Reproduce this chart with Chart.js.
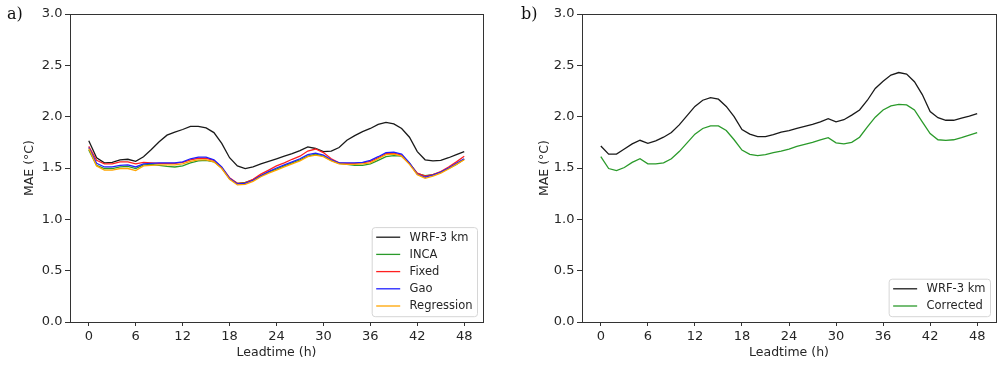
<!DOCTYPE html>
<html>
<head>
<meta charset="utf-8">
<script src="https://cdn.jsdelivr.net/npm/chart.js@4/dist/chart.umd.min.js"></script>
<style>
    body { margin: 0; background: #fff; }
    #page { position: relative; width: 997px; height: 365px; overflow: hidden; }
    .panel { position: absolute; top: 0; height: 365px; }
    #panelA { left: 0; width: 500px; }
    #panelB { left: 500px; width: 497px; }
</style>
</head>
<body>
<div id="page">
    <div class="panel" id="panelA"><canvas id="chartA" width="500" height="365"></canvas></div>
    <div class="panel" id="panelB"><canvas id="chartB" width="497" height="365"></canvas></div>
</div>
<script>
// lead time in hours (x axis)
const leadtime = [0, 1, 2, 3, 4, 5, 6, 7, 8, 9, 10, 11, 12, 13, 14, 15, 16, 17, 18, 19, 20, 21, 22, 23, 24,
    25, 26, 27, 28, 29, 30, 31, 32, 33, 34, 35, 36, 37, 38, 39, 40, 41, 42, 43, 44, 45, 46, 47, 48];
const xTicks = [0, 6, 12, 18, 24, 30, 36, 42, 48];
const yTicks = [0.0, 0.5, 1.0, 1.5, 2.0, 2.5, 3.0];

// panel a)
const wrfA = [1.765, 1.60, 1.55, 1.555, 1.58, 1.585, 1.565, 1.61, 1.68, 1.755, 1.82, 1.85, 1.875, 1.905, 1.905, 1.89,
    1.845, 1.74, 1.60, 1.52, 1.495, 1.51, 1.54, 1.565, 1.59, 1.615, 1.64, 1.67, 1.705, 1.69, 1.66, 1.665, 1.70,
    1.77, 1.815, 1.855, 1.885, 1.925, 1.945, 1.93, 1.885, 1.80, 1.66, 1.58, 1.57, 1.575, 1.60, 1.63, 1.66];
const incaA = [1.675, 1.525, 1.495, 1.495, 1.51, 1.515, 1.495, 1.53, 1.535, 1.525, 1.515, 1.51, 1.52, 1.55, 1.57, 1.575,
    1.56, 1.50, 1.395, 1.35, 1.36, 1.385, 1.425, 1.46, 1.49, 1.52, 1.55, 1.58, 1.615, 1.635, 1.615, 1.575, 1.545,
    1.535, 1.525, 1.525, 1.54, 1.575, 1.61, 1.62, 1.615, 1.545, 1.445, 1.425, 1.435, 1.46, 1.495, 1.535, 1.585];
const fixedA = [1.71, 1.575, 1.54, 1.54, 1.56, 1.56, 1.54, 1.555, 1.55, 1.545, 1.545, 1.545, 1.555, 1.58, 1.595, 1.595,
    1.575, 1.505, 1.405, 1.35, 1.355, 1.39, 1.44, 1.48, 1.52, 1.55, 1.585, 1.615, 1.665, 1.685, 1.65, 1.59, 1.55,
    1.545, 1.545, 1.55, 1.565, 1.60, 1.64, 1.645, 1.625, 1.545, 1.45, 1.42, 1.435, 1.465, 1.51, 1.56, 1.615];
const gaoA = [1.70, 1.545, 1.51, 1.51, 1.525, 1.53, 1.51, 1.54, 1.545, 1.55, 1.55, 1.55, 1.56, 1.59, 1.605, 1.605,
    1.58, 1.51, 1.40, 1.345, 1.35, 1.38, 1.425, 1.465, 1.50, 1.53, 1.56, 1.59, 1.63, 1.645, 1.625, 1.58, 1.55,
    1.55, 1.55, 1.555, 1.575, 1.61, 1.65, 1.655, 1.635, 1.55, 1.44, 1.41, 1.43, 1.46, 1.50, 1.545, 1.59];
const regressionA = [1.69, 1.52, 1.48, 1.48, 1.495, 1.495, 1.475, 1.52, 1.525, 1.53, 1.53, 1.53, 1.54, 1.565, 1.58, 1.58,
    1.56, 1.495, 1.39, 1.335, 1.34, 1.37, 1.415, 1.45, 1.48, 1.51, 1.54, 1.57, 1.61, 1.625, 1.61, 1.57, 1.54,
    1.535, 1.535, 1.54, 1.55, 1.59, 1.63, 1.635, 1.615, 1.535, 1.435, 1.40, 1.42, 1.45, 1.49, 1.535, 1.58];

// panel b)
const wrfB = [1.715, 1.635, 1.635, 1.685, 1.735, 1.77, 1.74, 1.765, 1.80, 1.845, 1.92, 2.01, 2.10, 2.16, 2.185, 2.17,
    2.10, 2.00, 1.875, 1.83, 1.805, 1.805, 1.825, 1.85, 1.865, 1.885, 1.905, 1.925, 1.95, 1.98, 1.95, 1.97, 2.015,
    2.065, 2.16, 2.275, 2.345, 2.405, 2.43, 2.415, 2.34, 2.215, 2.05, 1.99, 1.965, 1.965, 1.985, 2.005, 2.03];
const correctedB = [1.61, 1.495, 1.475, 1.505, 1.555, 1.59, 1.54, 1.54, 1.55, 1.59, 1.66, 1.745, 1.83, 1.885, 1.91, 1.91,
    1.865, 1.775, 1.675, 1.633, 1.62, 1.63, 1.65, 1.665, 1.685, 1.71, 1.73, 1.75, 1.775, 1.795, 1.745, 1.735, 1.75,
    1.80, 1.90, 1.995, 2.065, 2.105, 2.12, 2.115, 2.065, 1.95, 1.835, 1.775, 1.77, 1.775, 1.795, 1.82, 1.845];

const FONT = '"DejaVu Sans", sans-serif';
const INK = '#262626';

function toPoints(values) {
    return leadtime.map((h, i) => ({ x: h, y: values[i] }));
}

function makeDatasets(series) {
    return series.map((s, i) => ({
        label: s.label,
        data: toPoints(s.values),
        borderColor: s.color,
        borderWidth: 1.3,
        pointRadius: 0,
        tension: 0,
        fill: false,
        order: series.length - i // last series on top, like matplotlib
    }));
}

// frame, legend in lower right corner and the panel letter
const panelDecor = {
    id: 'panelDecor',
    afterDatasetsDraw(chart, args, opts) {
        const ctx = chart.ctx;
        const area = chart.chartArea;
        ctx.save();
        ctx.strokeStyle = '#333';
        ctx.lineWidth = 1;
        ctx.strokeRect(Math.round(area.left) + 0.5, Math.round(area.top) + 0.5,
            Math.round(area.right - area.left), Math.round(area.bottom - area.top));

        // legend
        const sets = chart.data.datasets;
        ctx.font = '11.5px ' + FONT;
        let maxW = 0;
        sets.forEach(d => { maxW = Math.max(maxW, ctx.measureText(d.label).width); });
        const rowH = 17.2;
        const boxW = 4 + 24 + 9.4 + maxW + 5;
        const boxH = 20.3 + (sets.length - 1) * rowH;
        const bx = area.right - 5.5 - boxW;
        const by = area.bottom - 5.3 - boxH;
        ctx.beginPath();
        if (ctx.roundRect) ctx.roundRect(bx, by, boxW, boxH, 3); else ctx.rect(bx, by, boxW, boxH);
        ctx.fillStyle = 'rgba(255,255,255,0.8)';
        ctx.fill();
        ctx.strokeStyle = '#d6d6d6';
        ctx.stroke();
        sets.forEach((d, i) => {
            const cy = by + 9.6 + i * rowH;
            ctx.beginPath();
            ctx.strokeStyle = d.borderColor;
            ctx.lineWidth = 1.3;
            ctx.moveTo(bx + 4, cy);
            ctx.lineTo(bx + 28, cy);
            ctx.stroke();
            ctx.fillStyle = INK;
            ctx.textBaseline = 'middle';
            ctx.textAlign = 'left';
            ctx.fillText(d.label, bx + 37.4, cy + 0.5);
        });

        // panel letter
        ctx.font = '16px "DejaVu Serif", serif';
        ctx.fillStyle = '#111';
        ctx.textBaseline = 'middle';
        ctx.fillText(opts.letter, opts.letterX, 15);
        ctx.restore();
    }
};

function makeOptions(yWidth, yTitlePad, padRight, letter, letterX) {
    return {
        responsive: false,
        animation: false,
        layout: { padding: { top: 14, right: padRight, left: 0, bottom: 0 } },
        scales: {
            x: {
                type: 'linear',
                min: -2.4,
                max: 50.4,
                afterBuildTicks: scale => { scale.ticks = xTicks.map(v => ({ value: v })); },
                afterFit: scale => { scale.height = 43; },
                grid: { display: true, drawOnChartArea: false, drawTicks: true, tickLength: 4, color: '#333' },
                border: { display: false },
                ticks: { color: INK, font: { family: FONT, size: 13 }, padding: 3, maxRotation: 0 },
                title: {
                    display: true,
                    text: 'Leadtime (h)',
                    color: INK,
                    font: { family: FONT, size: 12.5 },
                    padding: { top: 0, bottom: 4.5 }
                }
            },
            y: {
                min: 0,
                max: 3,
                afterBuildTicks: scale => { scale.ticks = yTicks.map(v => ({ value: v })); },
                afterFit: scale => { scale.width = yWidth; },
                grid: { display: true, drawOnChartArea: false, drawTicks: true, tickLength: 5, color: '#333' },
                border: { display: false },
                ticks: { color: INK, font: { family: FONT, size: 13 }, padding: 2.5,
                    callback: v => v.toFixed(1) },
                title: {
                    display: true,
                    text: 'MAE (°C)',
                    color: INK,
                    font: { family: FONT, size: 12.5 },
                    padding: { top: yTitlePad, bottom: 0 }
                }
            }
        },
        plugins: {
            legend: { display: false },
            tooltip: { enabled: false },
            panelDecor: { letter: letter, letterX: letterX }
        }
    };
}

document.addEventListener("DOMContentLoaded", function () {
    new Chart(document.getElementById('chartA').getContext('2d'), {
        type: 'line',
        data: {
            datasets: makeDatasets([
                { label: 'WRF-3 km', values: wrfA, color: '#1a1a1a' },
                { label: 'INCA', values: incaA, color: '#2a9a2a' },
                { label: 'Fixed', values: fixedA, color: '#ff2020' },
                { label: 'Gao', values: gaoA, color: '#2020ff' },
                { label: 'Regression', values: regressionA, color: '#ffa500' }
            ])
        },
        options: makeOptions(70, 22.5, 17, 'a)', 7),
        plugins: [panelDecor]
    });

    new Chart(document.getElementById('chartB').getContext('2d'), {
        type: 'line',
        data: {
            datasets: makeDatasets([
                { label: 'WRF-3 km', values: wrfB, color: '#1a1a1a' },
                { label: 'Corrected', values: correctedB, color: '#2a9a2a' }
            ])
        },
        options: makeOptions(82, 37.5, 1, 'b)', 21),
        plugins: [panelDecor]
    });
});
</script>
</body>
</html>
